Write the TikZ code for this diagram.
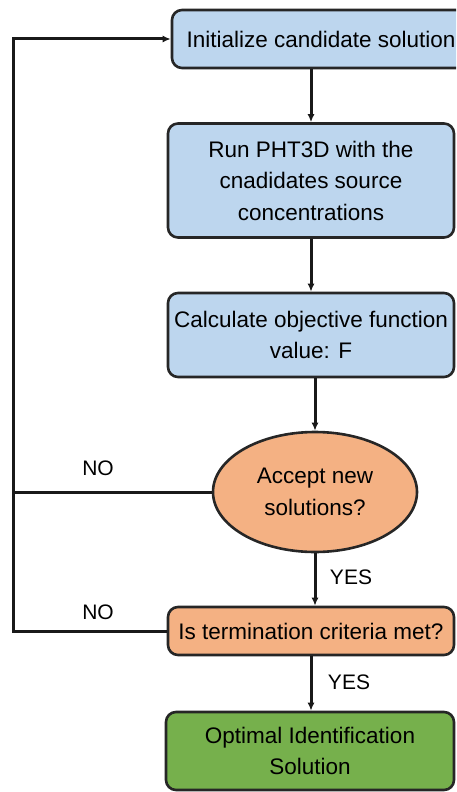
\documentclass[tikz,border=0pt]{standalone}
\usepackage{fontspec}
\setmainfont{Liberation Sans}
\usetikzlibrary{arrows.meta,shapes.geometric}

\definecolor{boxblue}{RGB}{189,214,238}
\definecolor{boxorange}{RGB}{244,177,131}
\definecolor{boxgreen}{RGB}{118,176,76}

\begin{document}
\begin{tikzpicture}[x=1pt,y=1pt,
    stepbox/.style={draw=black!85,line width=2.6pt,rounded corners=10pt,align=center,
      inner sep=0pt,font=\fontsize{22.5}{31.5}\selectfont},
    decision/.style={ellipse,draw=black!85,line width=2.6pt,fill=boxorange,align=center,
      inner sep=0pt,minimum width=204,minimum height=120,font=\fontsize{22.5}{32}\selectfont},
    lbl/.style={font=\fontsize{21}{25}\selectfont},
    link/.style={line width=3pt,black!90},
    arr/.style={link,-{Latex[length=8pt,width=7pt]}}]
      \useasboundingbox (0,0) rectangle (456,-792);
      \clip (0,0) rectangle (456,-792);

      \node[stepbox,fill=boxblue,minimum width=298,minimum height=58] (init) at (321,-39)
        {Initialize candidate solution};
      \node[stepbox,fill=boxblue,minimum width=286,minimum height=114] (run) at (311,-180.5)
        {Run PHT3D with the\\cnadidates source\\concentrations};
      \node[stepbox,fill=boxblue,minimum width=286,minimum height=84] (calc) at (311,-335)
        {Calculate objective function\\value: F};
      \node[decision] (accept) at (315,-492) {Accept new\\solutions?};
      \node[stepbox,fill=boxorange,minimum width=286,minimum height=48] (term) at (311,-631)
        {Is termination criteria met?};
      \node[stepbox,fill=boxgreen,minimum width=288,minimum height=78] (final) at (310,-751)
        {Optimal Identification\\Solution};

      \coordinate (loop) at (13,-631);

      \draw[arr] (run.north |- init.south) -- (run.north);
      \draw[arr] (run.south) -- (calc.north);
      \draw[arr] (calc.south -| accept.north) -- (accept.north);
      \draw[arr] (accept.south) -- (accept.south |- term.north);
      \draw[arr] (term.south) -- (term.south |- final.north);

      \draw[link] (accept.west) -- (accept.west -| loop);
      \draw[arr] (term.west) -- (loop) |- (init.west);

      \node[lbl] (no1) at (98,-468) {NO};
      \node[lbl] (no2) at (98,-612) {NO};
      \node[lbl] (yes1) at (351,-577) {YES};
      \node[lbl] (yes2) at (349,-682) {YES};
    \end{tikzpicture}
\end{document}
